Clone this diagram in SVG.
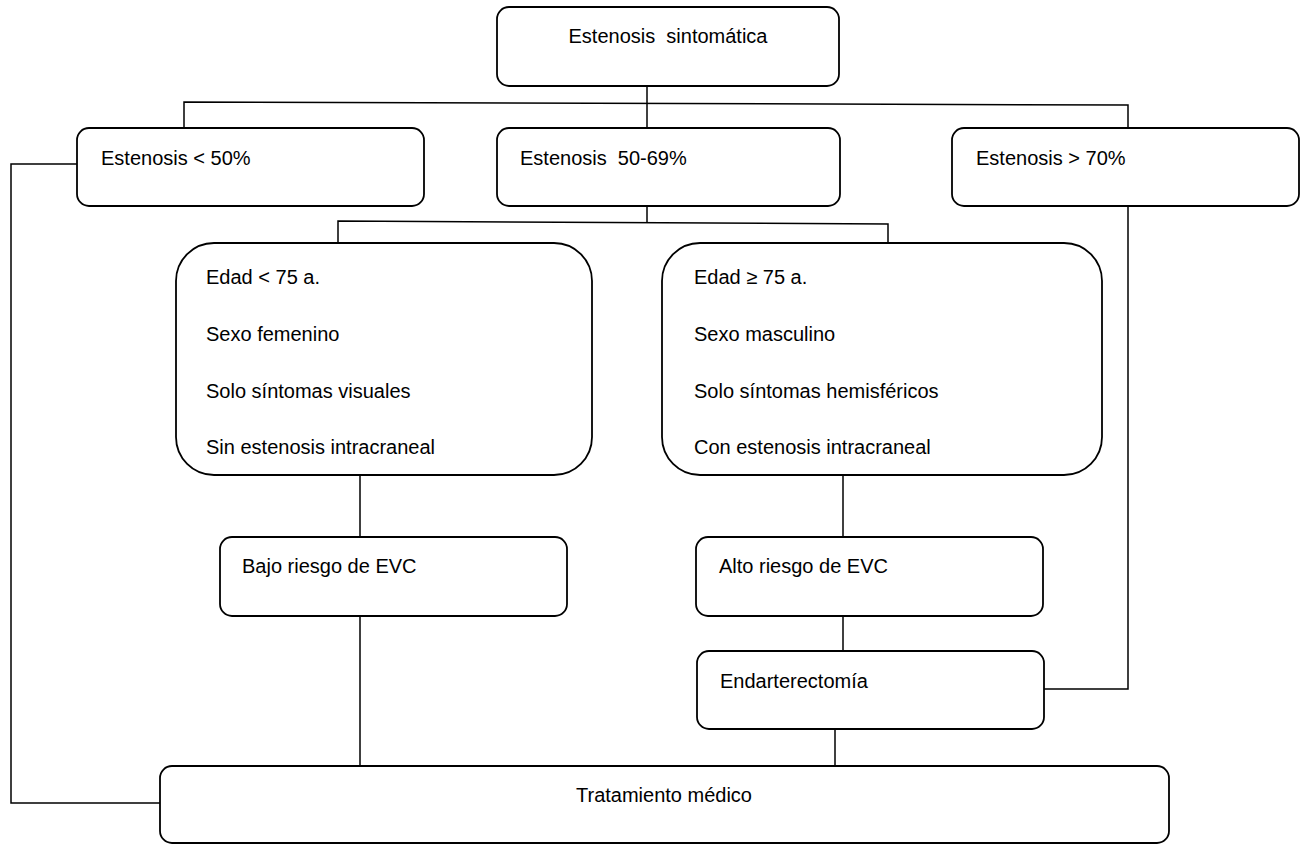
<svg xmlns="http://www.w3.org/2000/svg" width="1302" height="844" viewBox="0 0 1302 844">
<style>
.box{fill:#fff;stroke:#000;stroke-width:1.8}
.t{font-family:"Liberation Sans",Arial,sans-serif;font-size:20px;fill:#000;white-space:pre}
.c{fill:none;stroke:#000;stroke-width:1.5}
</style>
<rect width="1302" height="844" fill="#fff"/>
<g id="connectors">
<path class="c" d="M647,86 V128"/>
<path class="c" d="M184,128 V102 L1128,105 V128"/>
<path class="c" d="M647,206 V222"/>
<path class="c" d="M338,245 V221 L888,224 V243"/>
<path class="c" d="M360,475 V537"/>
<path class="c" d="M843,475 V537"/>
<path class="c" d="M360,616 V766"/>
<path class="c" d="M843,616 V651"/>
<path class="c" d="M835,729 V766"/>
<path class="c" d="M1128,206 V689 H1044"/>
<path class="c" d="M77,164 H11 V803 H160"/>
</g>
<g id="n_top">
<rect class="box" x="497" y="7" width="342" height="79" rx="12"/>
<text class="t" x="668" y="43" text-anchor="middle">Estenosis  sintomática</text>
</g>
<g id="n_lt50">
<rect class="box" x="77" y="128" width="347" height="78" rx="12"/>
<text class="t" x="101" y="165">Estenosis &lt; 50%</text>
</g>
<g id="n_50_69">
<rect class="box" x="497" y="128" width="343" height="78" rx="12"/>
<text class="t" x="520" y="165">Estenosis  50-69%</text>
</g>
<g id="n_gt70">
<rect class="box" x="952" y="128" width="347" height="78" rx="12"/>
<text class="t" x="976" y="165">Estenosis &gt; 70%</text>
</g>
<g id="n_low_crit">
<rect class="box" x="176" y="243" width="416" height="232" rx="38"/>
<text class="t" x="206" y="284">Edad &lt; 75 a.</text>
<text class="t" x="206" y="341">Sexo femenino</text>
<text class="t" x="206" y="398">Solo síntomas visuales</text>
<text class="t" x="206" y="454">Sin estenosis intracraneal</text>
</g>
<g id="n_high_crit">
<rect class="box" x="662" y="243" width="440" height="232" rx="38"/>
<text class="t" x="694" y="284">Edad ≥ 75 a.</text>
<text class="t" x="694" y="341">Sexo masculino</text>
<text class="t" x="694" y="398">Solo síntomas hemisféricos</text>
<text class="t" x="694" y="454">Con estenosis intracraneal</text>
</g>
<g id="n_low">
<rect class="box" x="220" y="537" width="347" height="79" rx="12"/>
<text class="t" x="242" y="573">Bajo riesgo de EVC</text>
</g>
<g id="n_high">
<rect class="box" x="696" y="537" width="347" height="79" rx="12"/>
<text class="t" x="719" y="573">Alto riesgo de EVC</text>
</g>
<g id="n_endart">
<rect class="box" x="697" y="651" width="347" height="78" rx="12"/>
<text class="t" x="720" y="688">Endarterectomía</text>
</g>
<g id="n_tratamiento">
<rect class="box" x="160" y="766" width="1009" height="77" rx="12"/>
<text class="t" x="664" y="802" text-anchor="middle">Tratamiento médico</text>
</g>
</svg>
